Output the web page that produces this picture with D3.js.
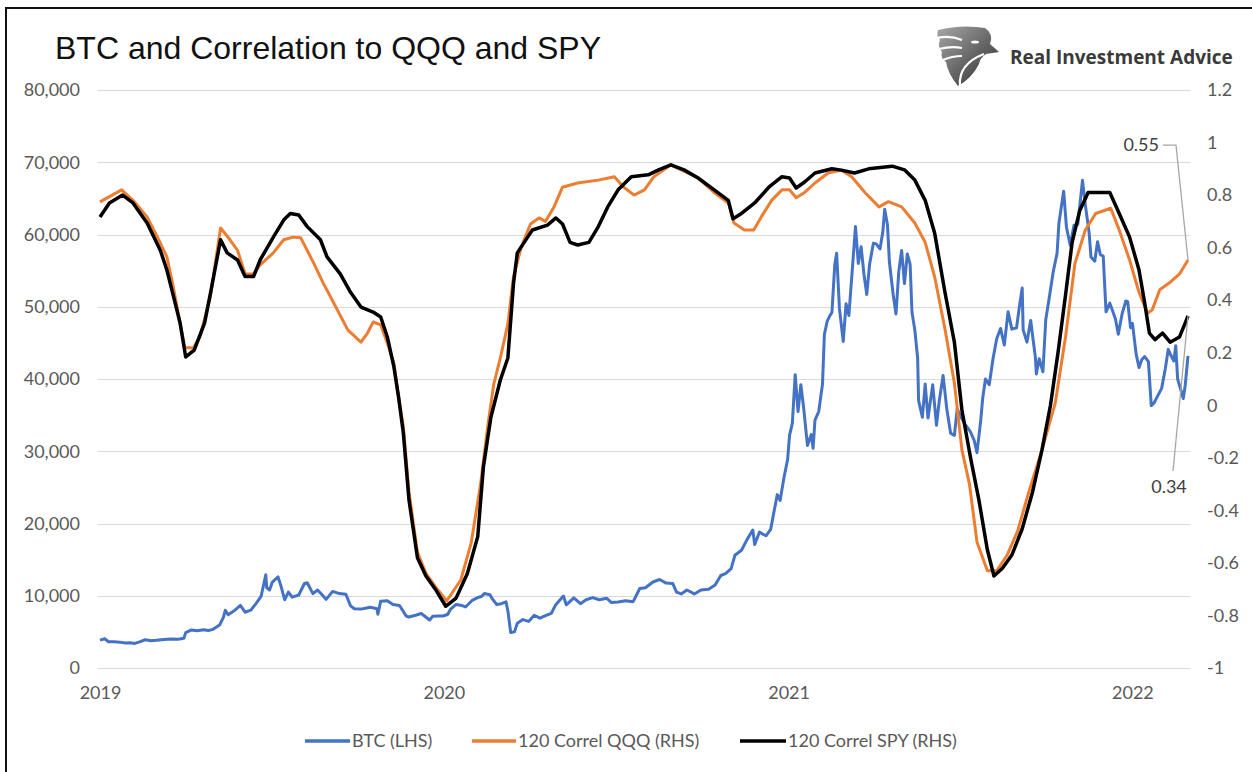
<!DOCTYPE html>
<html><head><meta charset="utf-8">
<script src="https://cdn.jsdelivr.net/npm/d3@7"></script>
<style>body{margin:0;background:#fff} svg{display:block}</style>
</head><body><svg id="c" width="1252" height="772"></svg>
<script>
// ---------------- DATA ----------------
const chartTitle = "BTC and Correlation to QQQ and SPY";
const brandName = "Real Investment Advice";
const seriesNames = ["BTC (LHS)", "120 Correl QQQ (RHS)", "120 Correl SPY (RHS)"];
const leftTicks = [0,10000,20000,30000,40000,50000,60000,70000,80000];
const rightTicks = [-1,-0.8,-0.6,-0.4,-0.2,0,0.2,0.4,0.6,0.8,1,1.2];
const yearTicks = ["2019-01-01","2020-01-01","2021-01-01","2022-01-01"];
const endLabels = {qqq: 0.55, spy: 0.34};

const btcData = [
["2019-01-01",3850],["2019-01-06",4050],["2019-01-10",3630],["2019-01-16",3620],["2019-01-22",3580],["2019-01-28",3450],
["2019-02-02",3500],["2019-02-07",3400],["2019-02-12",3620],["2019-02-18",3910],["2019-02-24",3760],["2019-03-02",3830],
["2019-03-10",3950],["2019-03-17",4000],["2019-03-25",3980],["2019-03-31",4110],["2019-04-02",4900],["2019-04-08",5270],
["2019-04-14",5160],["2019-04-21",5300],["2019-04-26",5200],["2019-05-01",5350],["2019-05-08",5950],["2019-05-12",7000],
["2019-05-14",7990],["2019-05-17",7360],["2019-05-23",7880],["2019-05-30",8660],["2019-06-04",7720],["2019-06-10",8000],
["2019-06-16",8980],["2019-06-21",9900],["2019-06-26",12900],["2019-06-27",11100],["2019-06-30",10800],["2019-07-03",11900],
["2019-07-09",12600],["2019-07-12",11400],["2019-07-16",9450],["2019-07-20",10500],["2019-07-24",9800],["2019-07-31",10100],
["2019-08-06",11700],["2019-08-09",11800],["2019-08-15",10300],["2019-08-20",10800],["2019-08-25",10100],["2019-08-29",9500],
["2019-09-05",10600],["2019-09-12",10300],["2019-09-19",10200],["2019-09-24",8600],["2019-09-28",8200],["2019-10-05",8150],
["2019-10-11",8300],["2019-10-15",8400],["2019-10-22",8200],["2019-10-23",7450],["2019-10-26",9250],["2019-11-02",9300],
["2019-11-08",8800],["2019-11-15",8650],["2019-11-22",7200],["2019-11-25",7050],["2019-12-02",7300],["2019-12-08",7550],
["2019-12-17",6640],["2019-12-20",7150],["2019-12-26",7200],["2019-12-31",7200],
["2020-01-05",7400],["2020-01-08",8100],["2020-01-14",8800],["2020-01-19",8700],["2020-01-24",8450],["2020-01-31",9350],
["2020-02-06",9750],["2020-02-10",9900],["2020-02-13",10300],["2020-02-19",10150],["2020-02-21",9650],["2020-02-26",8800],
["2020-03-02",8900],["2020-03-07",9150],["2020-03-09",7900],["2020-03-12",4900],["2020-03-16",5000],["2020-03-19",6200],
["2020-03-25",6700],["2020-03-31",6450],["2020-04-06",7300],["2020-04-12",6900],["2020-04-18",7250],["2020-04-24",7550],
["2020-04-29",8800],["2020-05-07",9950],["2020-05-10",8750],["2020-05-18",9700],["2020-05-25",8900],["2020-05-31",9450],
["2020-06-07",9750],["2020-06-14",9450],["2020-06-22",9650],["2020-06-27",9050],["2020-07-04",9150],["2020-07-12",9300],
["2020-07-20",9180],["2020-07-27",11000],["2020-08-02",11100],["2020-08-10",11900],["2020-08-17",12250],["2020-08-24",11750],
["2020-08-31",11700],["2020-09-04",10500],["2020-09-09",10250],["2020-09-15",10800],["2020-09-23",10250],["2020-09-30",10800],
["2020-10-08",10900],["2020-10-15",11500],["2020-10-21",12800],["2020-10-26",13050],["2020-11-01",13750],["2020-11-05",15600],
["2020-11-12",16300],["2020-11-18",17800],["2020-11-24",19100],["2020-11-26",17100],["2020-12-01",18800],["2020-12-08",18300],
["2020-12-13",19200],["2020-12-16",21300],["2020-12-20",24000],["2020-12-23",23200],["2020-12-27",26300],["2020-12-31",28900],
["2021-01-02",32200],["2021-01-05",33900],["2021-01-08",40600],["2021-01-11",35500],["2021-01-14",39200],["2021-01-17",36000],
["2021-01-21",30800],["2021-01-25",32300],["2021-01-27",30400],["2021-01-29",34300],["2021-02-02",35500],["2021-02-06",39300],
["2021-02-08",46200],["2021-02-11",48000],["2021-02-14",48800],["2021-02-16",49200],["2021-02-19",55800],["2021-02-21",57400],
["2021-02-24",49700],["2021-02-28",45200],["2021-03-03",50400],["2021-03-06",48800],["2021-03-10",55800],["2021-03-13",61100],
["2021-03-16",56000],["2021-03-19",58300],["2021-03-22",54500],["2021-03-25",51700],["2021-03-28",55900],["2021-04-01",58800],
["2021-04-04",58700],["2021-04-08",58000],["2021-04-11",60300],["2021-04-13",63500],["2021-04-16",61300],["2021-04-18",56200],
["2021-04-22",51700],["2021-04-25",49000],["2021-04-28",54900],["2021-05-01",57800],["2021-05-04",53200],["2021-05-07",57300],
["2021-05-10",55900],["2021-05-12",49200],["2021-05-15",46800],["2021-05-18",42900],["2021-05-19",37000],["2021-05-23",34700],
["2021-05-26",39300],["2021-05-29",34600],["2021-06-03",39200],["2021-06-07",33600],["2021-06-10",37000],["2021-06-14",40500],
["2021-06-18",35800],["2021-06-22",32500],["2021-06-26",32200],["2021-06-29",35900],["2021-07-03",34700],["2021-07-07",33800],
["2021-07-13",32700],["2021-07-17",31500],["2021-07-20",29800],["2021-07-24",34300],["2021-07-26",37300],["2021-07-29",40000],
["2021-08-02",39200],["2021-08-06",42800],["2021-08-10",45600],["2021-08-14",47000],["2021-08-18",44700],["2021-08-22",49300],
["2021-08-26",46900],["2021-08-31",47100],["2021-09-03",50000],["2021-09-06",52600],["2021-09-07",46800],["2021-09-11",45100],
["2021-09-15",48100],["2021-09-20",43000],["2021-09-21",40700],["2021-09-24",42800],["2021-09-28",41000],["2021-10-01",48200],
["2021-10-05",51500],["2021-10-09",54900],["2021-10-13",57400],["2021-10-15",61600],["2021-10-20",66000],["2021-10-23",61000],
["2021-10-27",58500],["2021-10-31",61300],["2021-11-04",61400],["2021-11-09",67500],["2021-11-12",64100],["2021-11-16",60300],
["2021-11-18",56900],["2021-11-22",56300],["2021-11-25",59000],["2021-11-28",57200],["2021-12-01",57000],["2021-12-04",49300],
["2021-12-08",50500],["2021-12-11",49400],["2021-12-14",48300],["2021-12-17",46200],["2021-12-21",49000],["2021-12-25",50800],
["2021-12-27",50700],["2021-12-30",47100],
["2022-01-01",47700],["2022-01-05",43400],["2022-01-08",41600],["2022-01-11",42700],["2022-01-14",43100],["2022-01-18",42400],
["2022-01-21",36300],["2022-01-24",36700],["2022-01-28",37700],["2022-02-01",38700],["2022-02-05",41500],["2022-02-08",44100],
["2022-02-10",43500],["2022-02-14",42500],["2022-02-16",44600],["2022-02-18",40000],["2022-02-22",38200],["2022-02-24",37300],
["2022-02-26",39100],["2022-03-01",43200]
];

const qqqData = [
["2019-01-01",0.774],["2019-01-24",0.82],["2019-02-05",0.78],["2019-02-20",0.717],["2019-03-03",0.64],["2019-03-13",0.565],
["2019-03-19",0.465],["2019-03-27",0.313],["2019-04-01",0.22],["2019-04-10",0.218],["2019-04-17",0.26],["2019-04-28",0.41],
["2019-05-09",0.675],["2019-05-19",0.63],["2019-05-27",0.59],["2019-06-04",0.50],["2019-06-13",0.50],["2019-06-20",0.534],
["2019-07-04",0.58],["2019-07-15",0.63],["2019-07-25",0.64],["2019-08-02",0.638],["2019-08-16",0.54],["2019-08-26",0.465],
["2019-09-06",0.39],["2019-09-21",0.287],["2019-10-05",0.24],["2019-10-12",0.275],["2019-10-18",0.317],["2019-10-26",0.306],
["2019-11-02",0.237],["2019-11-09",0.16],["2019-11-14",0.03],["2019-11-19",-0.08],["2019-11-25",-0.33],["2019-12-04",-0.56],
["2019-12-13",-0.64],["2019-12-23",-0.69],["2020-01-04",-0.745],["2020-01-19",-0.665],["2020-01-30",-0.525],["2020-02-09",-0.30],
["2020-02-17",-0.07],["2020-02-23",0.08],["2020-03-01",0.18],["2020-03-09",0.31],["2020-03-15",0.49],["2020-03-23",0.60],
["2020-04-02",0.69],["2020-04-11",0.713],["2020-04-18",0.70],["2020-04-27",0.755],["2020-05-06",0.83],["2020-05-22",0.846],
["2020-06-13",0.857],["2020-06-30",0.87],["2020-07-10",0.83],["2020-07-21",0.80],["2020-08-01",0.82],["2020-08-11",0.87],
["2020-08-29",0.915],["2020-09-27",0.865],["2020-10-14",0.81],["2020-10-29",0.77],["2020-11-04",0.694],["2020-11-15",0.667],
["2020-11-25",0.667],["2020-12-03",0.717],["2020-12-14",0.78],["2020-12-25",0.82],["2021-01-02",0.82],["2021-01-09",0.79],
["2021-01-18",0.81],["2021-01-29",0.846],["2021-02-12",0.884],["2021-02-26",0.895],["2021-03-09",0.87],["2021-03-23",0.81],
["2021-04-07",0.755],["2021-04-17",0.775],["2021-05-01",0.755],["2021-05-15",0.694],["2021-05-26",0.62],["2021-06-05",0.49],
["2021-06-16",0.29],["2021-06-26",0.085],["2021-07-04",-0.17],["2021-07-12",-0.30],["2021-07-20",-0.52],["2021-07-31",-0.63],
["2021-08-10",-0.63],["2021-08-21",-0.57],["2021-09-01",-0.48],["2021-09-13",-0.33],["2021-09-27",-0.17],["2021-10-11",0.007],
["2021-10-22",0.26],["2021-11-01",0.54],["2021-11-12",0.667],["2021-11-23",0.73],["2021-12-09",0.75],["2021-12-18",0.667],
["2021-12-29",0.553],["2022-01-08",0.43],["2022-01-17",0.35],["2022-01-22",0.363],["2022-01-30",0.44],["2022-02-09",0.465],
["2022-02-20",0.50],["2022-03-01",0.553]
];

const spyData = [
["2019-01-01",0.717],["2019-01-11",0.77],["2019-01-25",0.80],["2019-02-05",0.77],["2019-02-20",0.694],["2019-03-06",0.59],
["2019-03-13",0.515],["2019-03-21",0.40],["2019-03-27",0.313],["2019-04-02",0.184],["2019-04-11",0.21],["2019-04-22",0.313],
["2019-04-29",0.44],["2019-05-09",0.63],["2019-05-16",0.58],["2019-05-27",0.553],["2019-06-04",0.49],["2019-06-13",0.49],
["2019-06-20",0.553],["2019-07-04",0.64],["2019-07-15",0.705],["2019-07-22",0.73],["2019-07-31",0.724],["2019-08-09",0.68],
["2019-08-23",0.63],["2019-08-30",0.565],["2019-09-13",0.50],["2019-09-24",0.43],["2019-10-05",0.374],["2019-10-18",0.355],
["2019-10-26",0.336],["2019-11-02",0.26],["2019-11-09",0.146],["2019-11-14",0.03],["2019-11-19",-0.105],["2019-11-25",-0.36],
["2019-12-04",-0.58],["2019-12-13",-0.65],["2019-12-23",-0.70],["2020-01-03",-0.765],["2020-01-14",-0.734],["2020-01-26",-0.64],
["2020-02-06",-0.50],["2020-02-12",-0.235],["2020-02-20",-0.045],["2020-03-01",0.096],["2020-03-09",0.18],["2020-03-15",0.465],
["2020-03-19",0.58],["2020-03-30",0.64],["2020-04-04",0.667],["2020-04-20",0.686],["2020-04-29",0.713],["2020-05-06",0.69],
["2020-05-14",0.62],["2020-05-22",0.61],["2020-06-03",0.62],["2020-06-13",0.68],["2020-06-23",0.755],["2020-07-04",0.82],
["2020-07-18",0.87],["2020-08-05",0.877],["2020-08-16",0.896],["2020-08-29",0.915],["2020-09-12",0.896],["2020-09-27",0.865],
["2020-10-14",0.82],["2020-10-29",0.78],["2020-11-03",0.71],["2020-11-12",0.73],["2020-11-26",0.77],["2020-12-11",0.83],
["2020-12-25",0.87],["2021-01-02",0.865],["2021-01-09",0.827],["2021-01-18",0.85],["2021-01-29",0.884],["2021-02-16",0.90],
["2021-02-26",0.895],["2021-03-12",0.884],["2021-03-27",0.90],["2021-04-21",0.91],["2021-05-04",0.896],["2021-05-15",0.857],
["2021-05-26",0.78],["2021-06-05",0.656],["2021-06-16",0.43],["2021-06-26",0.24],["2021-07-04",-0.018],["2021-07-13",-0.197],
["2021-07-22",-0.36],["2021-07-31",-0.55],["2021-08-07",-0.65],["2021-08-16",-0.62],["2021-08-26",-0.57],["2021-09-06",-0.47],
["2021-09-17",-0.33],["2021-09-27",-0.17],["2021-10-06",0.0],["2021-10-14",0.2],["2021-10-22",0.42],["2021-10-29",0.62],
["2021-11-06",0.74],["2021-11-15",0.81],["2021-12-08",0.81],["2021-12-18",0.73],["2021-12-29",0.64],["2022-01-08",0.515],
["2022-01-14",0.39],["2022-01-19",0.275],["2022-01-25",0.25],["2022-02-02",0.275],["2022-02-10",0.24],["2022-02-20",0.26],
["2022-02-26",0.313],["2022-03-01",0.34]
];

// ---------------- CHART ----------------
const parse = d3.timeParse("%Y-%m-%d");
const svg = d3.select("#c");
const W = 1252, H = 772;
const plot = {left: 100, right: 1188, top: 90, bottom: 668};
const tickFont = "Lato, 'Open Sans', sans-serif";
const tickColor = "#595959";

svg.append("rect").attr("width", W).attr("height", H).attr("fill", "#fff");
// frame
svg.append("path").attr("d", `M6,${H+5} L6,8 L${W+5},8`).attr("fill", "none")
  .attr("stroke", "#111").attr("stroke-width", 2);

const x = d3.scaleTime().domain([parse("2019-01-01"), parse("2022-03-01")]).range([plot.left, plot.right]);
const yL = d3.scaleLinear().domain([0, 80000]).range([plot.bottom, plot.top]);
const yR = d3.scaleLinear().domain([-1, 1.2]).range([plot.bottom, plot.top]);

// gridlines
svg.append("g").selectAll("line").data(leftTicks).join("line")
  .attr("x1", plot.left - 2).attr("x2", plot.right + 2)
  .attr("y1", d => Math.round(yL(d)) + 0.5).attr("y2", d => Math.round(yL(d)) + 0.5)
  .attr("stroke", "#d9d9d9").attr("stroke-width", 1.2);

// axes
const gL = svg.append("g").attr("transform", `translate(${plot.left},0)`)
  .call(d3.axisLeft(yL).tickValues(leftTicks).tickFormat(d3.format(",")).tickSize(0).tickPadding(20));
const gR = svg.append("g").attr("transform", `translate(${plot.right},0)`)
  .call(d3.axisRight(yR).tickValues(rightTicks).tickFormat(d => String(+d.toFixed(1))).tickSize(0).tickPadding(19));
const gX = svg.append("g").attr("transform", `translate(0,${plot.bottom})`)
  .call(d3.axisBottom(x).tickValues(yearTicks.map(parse)).tickFormat(d3.timeFormat("%Y")).tickSize(0).tickPadding(18));
[gL, gR, gX].forEach(g => {
  g.select(".domain").remove();
  g.selectAll("text").attr("font-family", tickFont).attr("font-size", 18).attr("fill", tickColor);
});

// lines
const btc = btcData.map(d => ({date: parse(d[0]), v: d[1]}));
const qqq = qqqData.map(d => ({date: parse(d[0]), v: d[1]}));
const spy = spyData.map(d => ({date: parse(d[0]), v: d[1]}));
const lineL = d3.line().x(d => x(d.date)).y(d => yL(d.v));
const lineR = d3.line().x(d => x(d.date)).y(d => yR(d.v));
const colors = ["#4472C4", "#ED7D31", "#000000"];

svg.append("path").datum(btc).attr("d", lineL).attr("fill", "none")
  .attr("stroke", colors[0]).attr("stroke-width", 3).attr("stroke-linejoin", "round");
svg.append("path").datum(qqq).attr("d", lineR).attr("fill", "none")
  .attr("stroke", colors[1]).attr("stroke-width", 3).attr("stroke-linejoin", "round");
svg.append("path").datum(spy).attr("d", lineR).attr("fill", "none")
  .attr("stroke", colors[2]).attr("stroke-width", 3.5).attr("stroke-linejoin", "round");

// end labels with leader lines
const lastQ = qqq[qqq.length - 1], lastS = spy[spy.length - 1];
const ann = svg.append("g").attr("font-family", tickFont).attr("font-size", 18).attr("fill", "#404040");
ann.append("path").attr("d", `M1163,${yR(0.99)} L1176,${yR(0.99)} L${x(lastQ.date)},${yR(lastQ.v)}`)
  .attr("fill", "none").attr("stroke", "#a6a6a6").attr("stroke-width", 1.3);
ann.append("text").attr("x", 1159).attr("y", yR(0.99)).attr("dy", "0.35em").attr("text-anchor", "end")
  .text(endLabels.qqq.toFixed(2));
ann.append("path").attr("d", `M1173,${yR(-0.25)} L${x(lastS.date)},${yR(lastS.v)}`)
  .attr("fill", "none").attr("stroke", "#a6a6a6").attr("stroke-width", 1.3);
ann.append("text").attr("x", 1169).attr("y", yR(-0.31)).attr("dy", "0.35em").attr("text-anchor", "middle")
  .text(endLabels.spy.toFixed(2));

// legend
const legendX = [[305, 352], [472, 518], [740, 788]];
const lg = svg.append("g");
seriesNames.forEach((n, i) => {
  lg.append("line").attr("x1", legendX[i][0]).attr("x2", legendX[i][1] - 2).attr("y1", 741).attr("y2", 741)
    .attr("stroke", colors[i]).attr("stroke-width", 3.5);
  lg.append("text").attr("x", legendX[i][1]).attr("y", 741).attr("dy", "0.35em")
    .attr("font-family", tickFont).attr("font-size", 18).attr("fill", tickColor).text(n);
});

// title
svg.append("text").attr("x", 55).attr("y", 59).attr("font-family", "'Liberation Sans', Arial, sans-serif")
  .attr("font-size", 32).attr("fill", "#111").text(chartTitle);

// brand logo
const defs = svg.append("defs");
const grad = defs.append("linearGradient").attr("id", "lg1").attr("x1", "0").attr("y1", "0").attr("x2", "1").attr("y2", "1");
grad.append("stop").attr("offset", "0").attr("stop-color", "#a8a8a8");
grad.append("stop").attr("offset", "1").attr("stop-color", "#2b2b2b");
const logo = svg.append("g");
logo.append("path").attr("fill", "url(#lg1)")
  .attr("d", "M938,30 Q962,24 985,28 Q994,34 990,44 L999,52 L986,54 Q980,58 979,64 Q972,78 958,86 Q948,74 946,62 Q940,58 942,52 Q937,46 940,40 Q936,36 938,30 Z");
logo.append("g").attr("stroke", "#fff").attr("stroke-width", 2.2).attr("fill", "none").selectAll("path")
  .data(["M937,38 Q950,35 962,40", "M939,49 Q951,46 962,48", "M943,60 Q952,56 962,56", "M960,86 Q958,64 984,54"])
  .join("path").attr("d", d => d);
logo.append("ellipse").attr("cx", 975).attr("cy", 42).attr("rx", 4).attr("ry", 1.6).attr("fill", "#fff");
svg.append("text").attr("x", 1010).attr("y", 64).attr("font-family", "'Open Sans', 'Noto Sans', sans-serif")
  .attr("font-weight", 700).attr("font-size", 19).attr("fill", "#3a3a3a").text(brandName);
</script></body></html>
